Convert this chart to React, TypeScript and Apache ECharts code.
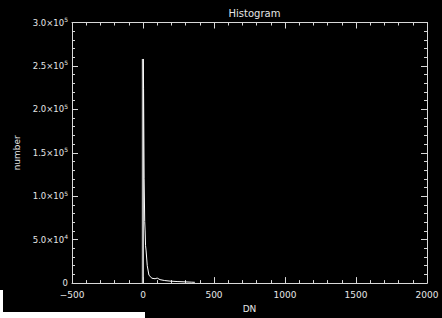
import React, { useEffect, useRef } from "react";
import * as echarts from "echarts";

const dnValues = [1, 1, 4, 4, 7, 8, 12, 15, 18, 22, 30, 42, 63, 85, 100, 120, 150, 190, 240, 296, 340, 365];
const counts = [0, 258000, 258000, 224000, 224000, 120000, 71000, 60000, 43000, 37000, 20000, 9000, 5600, 5000, 5800, 4000, 3000, 2300, 1800, 1400, 1100, 900];
const zeroLineDn = [-2, -2];
const zeroLineCounts = [0, 258000];
const xTickLabels = ["−500", "0", "500", "1000", "1500", "2000"];
const yTickMantissa = ["0", "5.0", "1.0", "1.5", "2.0", "2.5", "3.0"];
const yTickExponent = ["", "4", "5", "5", "5", "5", "5"];

export default function App() {
  const ref = useRef<HTMLDivElement>(null);
  useEffect(() => {
    document.body.style.margin = "0";
    document.body.style.background = "#000";
    const chart = echarts.init(ref.current!, null, { renderer: "svg" });
    const axisColor = "#d8d8d8";
    const textColor = "#e6e6e6";
    const font = "DejaVu Sans";
    const line = { onZero: false, show: true, lineStyle: { color: axisColor, width: 1 } };
    const tick = { show: true, inside: true, length: 6, lineStyle: { color: axisColor } };
    const minor = { show: true, splitNumber: 5, length: 3, lineStyle: { color: axisColor } };
    chart.setOption({
      animation: false,
      backgroundColor: "#000",
      title: {
        text: "Histogram",
        left: 249.5,
        top: 3,
        textAlign: "center",
        textStyle: { color: textColor, fontSize: 10, fontWeight: "normal", fontFamily: font },
      },
      grid: { left: 72, right: 15, top: 22.5, bottom: 30 },
      xAxis: [
        {
          type: "value",
          min: -500,
          max: 2000,
          interval: 500,
          name: "DN",
          nameLocation: "middle",
          nameGap: 18,
          nameTextStyle: { color: textColor, fontSize: 9, fontFamily: font },
          axisLine: line,
          axisTick: tick,
          minorTick: minor,
          splitLine: { show: false },
          axisLabel: {
            color: textColor,
            fontSize: 9,
            fontFamily: font,
            margin: 7,
            formatter: (v: number) => xTickLabels[Math.round((v + 500) / 500)] ?? "",
          },
        },
        {
          type: "value",
          position: "top",
          min: -500,
          max: 2000,
          interval: 500,
          axisLine: line,
          axisTick: tick,
          minorTick: minor,
          splitLine: { show: false },
          axisLabel: { show: false },
        },
      ],
      yAxis: [
        {
          type: "value",
          min: 0,
          max: 300000,
          interval: 50000,
          name: "number",
          nameLocation: "middle",
          nameGap: 29,
          nameRotate: 90,
          nameTextStyle: { color: textColor, fontSize: 9, fontFamily: font },
          axisLine: line,
          axisTick: tick,
          minorTick: minor,
          splitLine: { show: false },
          axisLabel: {
            color: textColor,
            fontSize: 9,
            fontFamily: font,
            margin: 4,
            formatter: (v: number) => {
              const i = Math.round(v / 50000);
              if (i === 0) return "{m|0}";
              return "{m|" + yTickMantissa[i] + "×10}{e|" + yTickExponent[i] + "}";
            },
            rich: {
              m: { color: textColor, fontSize: 8.5, fontFamily: font },
              e: { color: textColor, fontSize: 6, fontFamily: font, padding: [0, 0, 6, 0] },
            },
          },
        },
        {
          type: "value",
          position: "right",
          min: 0,
          max: 300000,
          interval: 50000,
          axisLine: line,
          axisTick: tick,
          minorTick: minor,
          splitLine: { show: false },
          axisLabel: { show: false },
        },
      ],
      series: [
        {
          type: "line",
          data: zeroLineDn.map((d, i) => [d, zeroLineCounts[i]]),
          symbol: "none",
          lineStyle: { color: "#8c8c8c", width: 2 },
          silent: true,
        },
        {
          type: "line",
          data: dnValues.map((d, i) => [d, counts[i]]),
          symbol: "none",
          lineStyle: { color: "#ffffff", width: 1 },
          silent: true,
        },
      ],
      graphic: [
        { type: "rect", shape: { x: 0, y: 312, width: 145, height: 6 }, style: { fill: "#fff" } },
        { type: "rect", shape: { x: 0, y: 290, width: 3, height: 28 }, style: { fill: "#fff" } },
      ],
    });
    return () => chart.dispose();
  }, []);
  return <div ref={ref} style={{ position: "absolute", left: 0, top: 0, width: 442, height: 318 }} />;
}
